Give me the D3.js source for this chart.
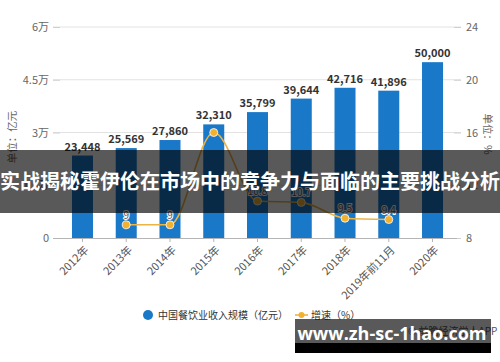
<!DOCTYPE html>
<html><head><meta charset="utf-8">
<script src="https://cdn.jsdelivr.net/npm/d3@7"></script>
<style>
html,body{margin:0;padding:0;background:#fff;}
svg{display:block;font-family:"Noto Sans CJK SC","Noto Sans",sans-serif;}
</style></head>
<body>
<svg id="chart" width="500" height="362"></svg>
<script>
const categories = ["2012年","2013年","2014年","2015年","2016年","2017年","2018年","2019年前11月","2020年"];
const revenue = [23448, 25569, 27860, 32310, 35799, 39644, 42716, 41896, 50000];
const growth = [null, 9.0, 9.0, 16.0, 10.8, 10.7, 9.5, 9.4, null];
const growthLabels = ["", "9", "9", "", "10.8", "10.7", "9.5", "9.4", ""];
const leftTicks = [0, 15000, 30000, 45000, 60000];
const leftTickLabels = ["0", "1.5万", "3万", "4.5万", "6万"];
const rightTicks = [8, 12, 16, 20, 24];
const legendLabels = ["中国餐饮业收入规模（亿元）", "增速（%）"];
const leftTitle = "单位：亿元";
const rightTitle = "单位：%";
const bannerText = "实战揭秘霍伊伦在市场中的竞争力与面临的主要挑战分析";
const siteText = "www.zh-sc-1hao.com";
const sourceText = "© 前瞻经济学人APP";
const watermark = "前瞻产业研究院";

const svg = d3.select("#chart");
const barColor = "#1a78c8", lineColor = "#ebb445", pointColor = "#f3b130";

const x = d3.scaleBand().domain(categories).range([60.6, 454.4]).padding(0);
const y = d3.scaleLinear().domain([0, 60000]).range([238, 27]);
const y2 = d3.scaleLinear().domain([8, 24]).range([238, 27]);
const cx = d => x(d) + x.bandwidth() / 2;

// watermarks
[[165, 95], [345, 105], [120, 300], [390, 305]].forEach(([wx, wy]) => {
  svg.append("text").attr("transform", `translate(${wx},${wy}) rotate(-30)`)
    .attr("text-anchor", "middle").attr("font-size", 24).attr("font-weight", "bold")
    .attr("fill", "#000").attr("fill-opacity", 0.025).text(watermark);
});

// gridlines
svg.append("g").selectAll("line").data(leftTicks.slice(1)).join("line")
  .attr("x1", 53).attr("x2", 461).attr("y1", d => y(d)).attr("y2", d => y(d))
  .attr("stroke", "#e2e2e2").attr("stroke-width", 1);

// left axis
const gl = svg.append("g").attr("transform", "translate(60,0)")
  .call(d3.axisLeft(y).tickValues(leftTicks).tickSize(7).tickPadding(4)
    .tickFormat((d, i) => leftTickLabels[i]));
gl.select(".domain").remove();
gl.selectAll("line").attr("stroke", "#d0d0d0");
gl.selectAll("text").attr("font-size", 11).attr("fill", "#666").attr("font-family", "'Noto Sans CJK SC',sans-serif");

// right axis
const gr = svg.append("g").attr("transform", "translate(454,0)")
  .call(d3.axisRight(y2).tickValues(rightTicks).tickSize(7).tickPadding(5));
gr.select(".domain").remove();
gr.selectAll("line").attr("stroke", "#d0d0d0");
gr.selectAll("text").attr("font-size", 11).attr("fill", "#666").attr("font-family", "'Noto Sans CJK SC',sans-serif");

// bars
const bw = x.bandwidth() * 0.48;
svg.append("g").selectAll("rect").data(categories).join("rect")
  .attr("x", d => cx(d) - bw / 2).attr("width", bw)
  .attr("y", (d, i) => y(revenue[i])).attr("height", (d, i) => y(0) - y(revenue[i]))
  .attr("fill", barColor);

// bar labels
svg.append("g").selectAll("text").data(categories).join("text")
  .attr("x", d => cx(d)).attr("y", (d, i) => y(revenue[i]) - 5)
  .attr("text-anchor", "middle").attr("font-size", 11).attr("font-weight", "bold")
  .attr("fill", "#333").text((d, i) => d3.format(",")(revenue[i]));

// x axis
const gx = svg.append("g").attr("transform", "translate(0,238)")
  .call(d3.axisBottom(x).tickSize(4).tickPadding(3));
gx.select(".domain").attr("d", "M53,0.5H457").attr("stroke", "#b5b5b5");
gx.selectAll("line").attr("stroke", "#b5b5b5");
gx.selectAll("text").attr("font-size", 11).attr("fill", "#555")
  .attr("font-family", "'Noto Sans CJK SC',sans-serif")
  .attr("text-anchor", "end").attr("dy", "0.35em")
  .attr("transform", "translate(4,10) rotate(-45)").attr("y", 0).attr("x", 0);

// growth line
const pts = categories.map((c, i) => ({c, v: growth[i], l: growthLabels[i]})).filter(d => d.v != null);
svg.append("path").datum(pts)
  .attr("d", d3.line().x(d => cx(d.c)).y(d => y2(d.v)).curve(d3.curveMonotoneX))
  .attr("fill", "none").attr("stroke", lineColor).attr("stroke-width", 1.6);
svg.append("g").selectAll("circle").data(pts).join("circle")
  .attr("cx", d => cx(d.c)).attr("cy", d => y2(d.v)).attr("r", 4)
  .attr("fill", pointColor).attr("stroke", "#fff").attr("stroke-width", 0.8);
svg.append("g").selectAll("text").data(pts.filter(d => d.l)).join("text")
  .attr("x", d => cx(d.c)).attr("y", d => y2(d.v) - 6)
  .attr("text-anchor", "middle").attr("font-size", 10).attr("fill", "#555")
  .attr("stroke", "#fff").attr("stroke-width", 2).attr("paint-order", "stroke")
  .text(d => d.l);

// axis titles
svg.append("text").attr("transform", "translate(16,137) rotate(-90)")
  .attr("text-anchor", "middle").attr("font-size", 10.5).attr("fill", "#666").text(leftTitle);
svg.append("text").attr("transform", "translate(484,134) rotate(90)")
  .attr("text-anchor", "middle").attr("font-size", 10.5).attr("fill", "#666").text(rightTitle);

// legend
const lg = svg.append("g");
lg.append("circle").attr("cx", 148).attr("cy", 315).attr("r", 5).attr("fill", barColor);
lg.append("text").attr("x", 158).attr("y", 315).attr("dy", "0.35em")
  .attr("font-size", 10).attr("fill", "#333").text(legendLabels[0]);
lg.append("line").attr("x1", 295).attr("x2", 308).attr("y1", 315).attr("y2", 315)
  .attr("stroke", lineColor).attr("stroke-width", 1.6);
lg.append("circle").attr("cx", 301.5).attr("cy", 315).attr("r", 3).attr("fill", pointColor);
lg.append("text").attr("x", 311).attr("y", 315).attr("dy", "0.35em")
  .attr("font-size", 10).attr("fill", "#333").text(legendLabels[1]);

// source text
svg.append("text").attr("x", 408).attr("y", 335).attr("font-size", 10)
  .attr("fill", "#555").text(sourceText);

// banner overlay
svg.append("rect").attr("x", 0).attr("y", 150).attr("width", 500).attr("height", 63)
  .attr("fill", "#000").attr("fill-opacity", 0.65);
svg.append("text").attr("x", 250).attr("y", 182).attr("dy", "0.35em")
  .attr("text-anchor", "middle").attr("font-size", 20).attr("font-weight", "bold")
  .attr("fill", "#fff").text(bannerText);

// site box
svg.append("rect").attr("x", 295).attr("y", 319).attr("width", 196).attr("height", 24)
  .attr("fill", "#000").attr("fill-opacity", 0.65);
svg.append("rect").attr("x", 295).attr("y", 343).attr("width", 196).attr("height", 10)
  .attr("fill", "#000");
svg.append("text").attr("x", 392).attr("y", 334).attr("dy", "0.35em")
  .attr("text-anchor", "middle").attr("font-size", 18).attr("font-weight", "bold")
  .attr("fill", "#fff").attr("font-family", "'Open Sans','DejaVu Sans',sans-serif").text(siteText);
</script>
</body></html>
